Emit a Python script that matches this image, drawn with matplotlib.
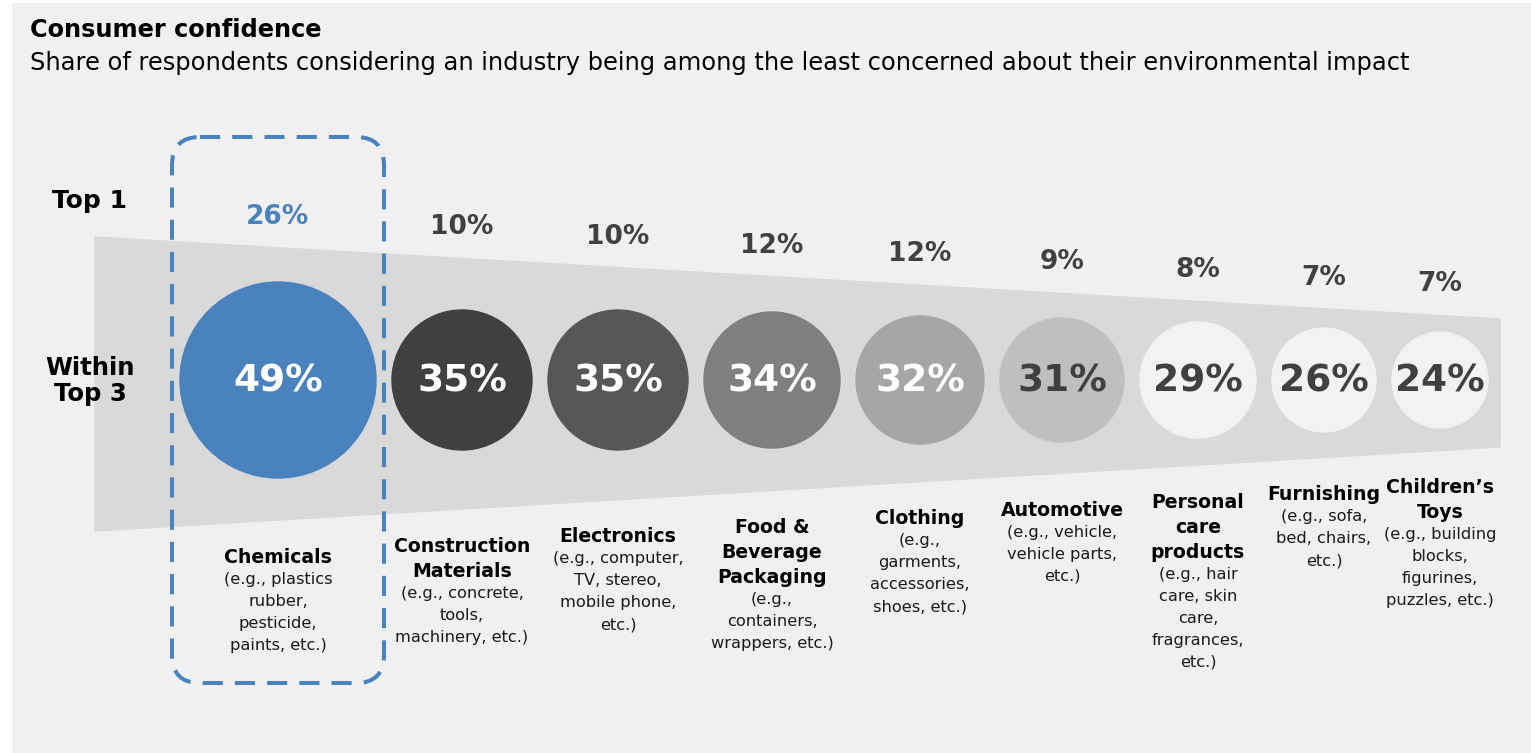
import matplotlib.pyplot as plt
from matplotlib.patches import Circle, Polygon, Rectangle, FancyBboxPatch

# data
categories = ["Chemicals", "Construction\nMaterials", "Electronics",
              "Food &\nBeverage\nPackaging", "Clothing", "Automotive",
              "Personal\ncare\nproducts", "Furnishing", "Children\u2019s\nToys"]
examples = ["(e.g., plastics\nrubber,\npesticide,\npaints, etc.)",
            "(e.g., concrete,\ntools,\nmachinery, etc.)",
            "(e.g., computer,\nTV, stereo,\nmobile phone,\netc.)",
            "(e.g.,\ncontainers,\nwrappers, etc.)",
            "(e.g.,\ngarments,\naccessories,\nshoes, etc.)",
            "(e.g., vehicle,\nvehicle parts,\netc.)",
            "(e.g., hair\ncare, skin\ncare,\nfragrances,\netc.)",
            "(e.g., sofa,\nbed, chairs,\netc.)",
            "(e.g., building\nblocks,\nfigurines,\npuzzles, etc.)"]
top1 = [26, 10, 10, 12, 12, 9, 8, 7, 7]
top3 = [49, 35, 35, 34, 32, 31, 29, 26, 24]

blue = "#4a82be"
dark = "#404040"
fills = [blue, "#404040", "#575757", "#7f7f7f", "#a6a6a6", "#bfbfbf",
         "#f2f2f2", "#f2f2f2", "#f2f2f2"]
inner_txt = ["white"] * 5 + [dark] * 4

W, H = 1531, 753
fig = plt.figure(figsize=(W / 100, H / 100), dpi=100, facecolor="white")
ax = fig.add_axes([0, 0, 1, 1])
ax.set_xlim(0, W)
ax.set_ylim(H, 0)
ax.axis("off")

ax.add_patch(Rectangle((12, 3), W - 12, H - 3, color="#f0f0f0", zorder=0))

ax.text(30, 30, "Consumer confidence", fontsize=17.3, fontweight="bold",
        va="center", ha="left", color="black")
ax.text(30, 63, "Share of respondents considering an industry being among the least "
        "concerned about their environmental impact", fontsize=17.4,
        va="center", ha="left", color="black")

# funnel band
fx0, fx1 = 95, 1500
ft0, ft1 = 237, 319
fb0, fb1 = 531, 447
ax.add_patch(Polygon([(fx0, ft0), (fx1, ft1), (fx1, fb1), (fx0, fb0)],
                     closed=True, color="#d9d9d9", zorder=1))


def top_at(x):
    return ft0 + (ft1 - ft0) * (x - fx0) / (fx1 - fx0)


def bot_at(x):
    return fb0 + (fb1 - fb0) * (x - fx0) / (fx1 - fx0)


ax.text(90, 201, "Top 1", fontsize=18, fontweight="bold", ha="center", va="center")
ax.text(90, 381, "Within\nTop 3", fontsize=17.6, fontweight="bold", ha="center",
        va="center", linespacing=1.1)

# circles placed side by side, radius proportional to value
scale = 2.0
gap = 16
cy = 380
xs = []
x = 278
for i, v in enumerate(top3):
    if i > 0:
        x += scale * top3[i - 1] + gap + scale * v
    xs.append(x)

for i, v in enumerate(top3):
    cx = xs[i]
    ax.add_patch(Circle((cx, cy), scale * v, color=fills[i], zorder=2))
    ax.text(cx, cy + 1, f"{v}%", fontsize=27, fontweight="bold",
            color=inner_txt[i], ha="center", va="center", zorder=3)
    ax.text(cx, top_at(cx) - 31, f"{top1[i]}%", fontsize=19, fontweight="bold",
            color=blue if i == 0 else dark, ha="center", va="center", zorder=3)

    y = bot_at(cx) + 37
    for line in categories[i].split("\n"):
        ax.text(cx, y, line, fontsize=13.6, fontweight="bold", ha="center",
                va="center", color="black")
        y += 25
    y -= 3
    for line in examples[i].split("\n"):
        ax.text(cx, y, line, fontsize=11.7, ha="center", va="center", color="#1a1a1a")
        y += 22

# highlight box around first column
r0 = scale * top3[0]
box = FancyBboxPatch((xs[0] - r0 - 8 + 28, 137 + 28), 2 * r0 + 16 - 56, 546 - 56,
                     boxstyle="round,pad=28", fill=False, edgecolor=blue,
                     linewidth=2.9, linestyle=(0, (5, 3)), zorder=4)
ax.add_patch(box)

fig.savefig("out.png", dpi=100, facecolor="white")
